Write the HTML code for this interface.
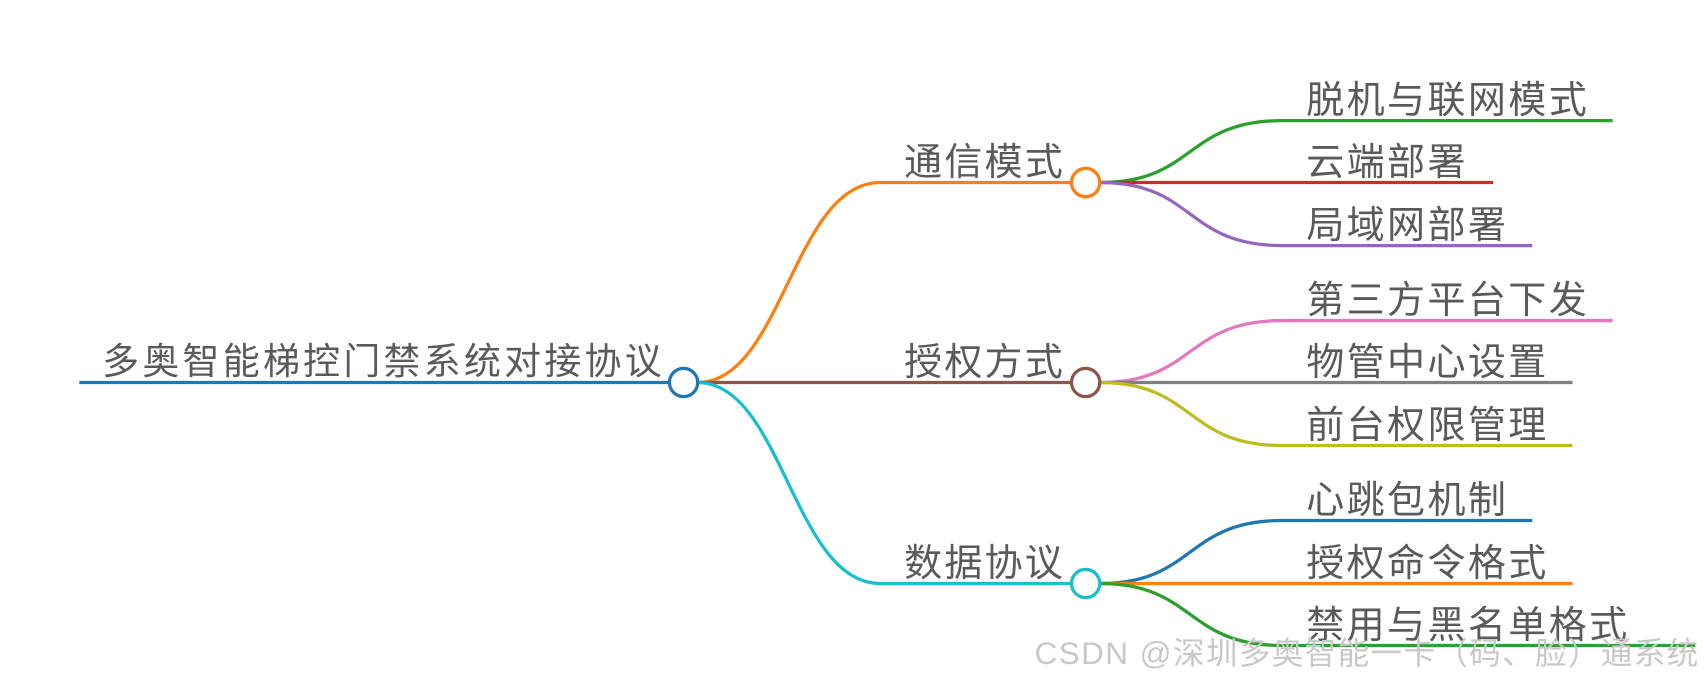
<!DOCTYPE html>
<html><head><meta charset="utf-8"><style>
html,body{margin:0;padding:0;background:#fff;width:1704px;height:681px;overflow:hidden}
svg text{font-family:"Liberation Sans","Noto Sans CJK SC",sans-serif;fill:#5a5a5a}
</style></head><body>
<svg width="1704" height="681" viewBox="0 0 1568 626.7" preserveAspectRatio="none" xmlns="http://www.w3.org/2000/svg">
<g fill="none" stroke-width="3">
<line x1="73" y1="352" x2="616" y2="352" stroke="#1f77b4"/>
<path d="M642 352 C720 352,730 168,810 168 L986 168" stroke="#ff7f0e"/>
<path d="M642 352 L986 352" stroke="#8c564b"/>
<path d="M642 352 C720 352,730 537,810 537 L986 537" stroke="#17becf"/>
<path d="M1012 168 C1100 168,1090 111,1180 111 L1484 111" stroke="#2ca02c"/>
<path d="M1012 168 L1374 168" stroke="#d62728"/>
<path d="M1012 168 C1100 168,1090 226,1180 226 L1410 226" stroke="#9467bd"/>
<path d="M1012 352 C1100 352,1090 295,1180 295 L1484 295" stroke="#e377c2"/>
<path d="M1012 352 L1447 352" stroke="#7f7f7f"/>
<path d="M1012 352 C1100 352,1090 410,1180 410 L1447 410" stroke="#bcbd22"/>
<path d="M1012 537 C1100 537,1090 479,1180 479 L1410 479" stroke="#1f77b4"/>
<path d="M1012 537 L1447 537" stroke="#ff7f0e"/>
<path d="M1012 537 C1100 537,1090 594,1180 594 L1560 594" stroke="#2ca02c"/>
</g>
<g fill="#fff" stroke-width="3">
<circle cx="629" cy="352" r="13" stroke="#1f77b4"/>
<circle cx="999" cy="168" r="13" stroke="#ff7f0e"/>
<circle cx="999" cy="352" r="13" stroke="#8c564b"/>
<circle cx="999" cy="537" r="13" stroke="#17becf"/>
</g>
<text x="94" y="344" font-size="34" letter-spacing="3">多奥智能梯控门禁系统对接协议</text>
<g font-size="35" letter-spacing="2">
<text x="832" y="161">通信模式</text>
<text x="832" y="345">授权方式</text>
<text x="832" y="530">数据协议</text>
</g>
<g font-size="35" letter-spacing="2.2">
<text x="1202" y="104">脱机与联网模式</text>
<text x="1202" y="161">云端部署</text>
<text x="1202" y="219">局域网部署</text>
<text x="1202" y="288">第三方平台下发</text>
<text x="1202" y="345">物管中心设置</text>
<text x="1202" y="403">前台权限管理</text>
<text x="1202" y="472">心跳包机制</text>
<text x="1202" y="530">授权命令格式</text>
<text x="1202" y="587">禁用与黑名单格式</text>
</g>
<text x="952" y="611" font-size="29" letter-spacing="1.3" style="fill:#c8c8c8">CSDN @深圳多奥智能一卡（码、脸）通系统</text>
</svg>
</body></html>
